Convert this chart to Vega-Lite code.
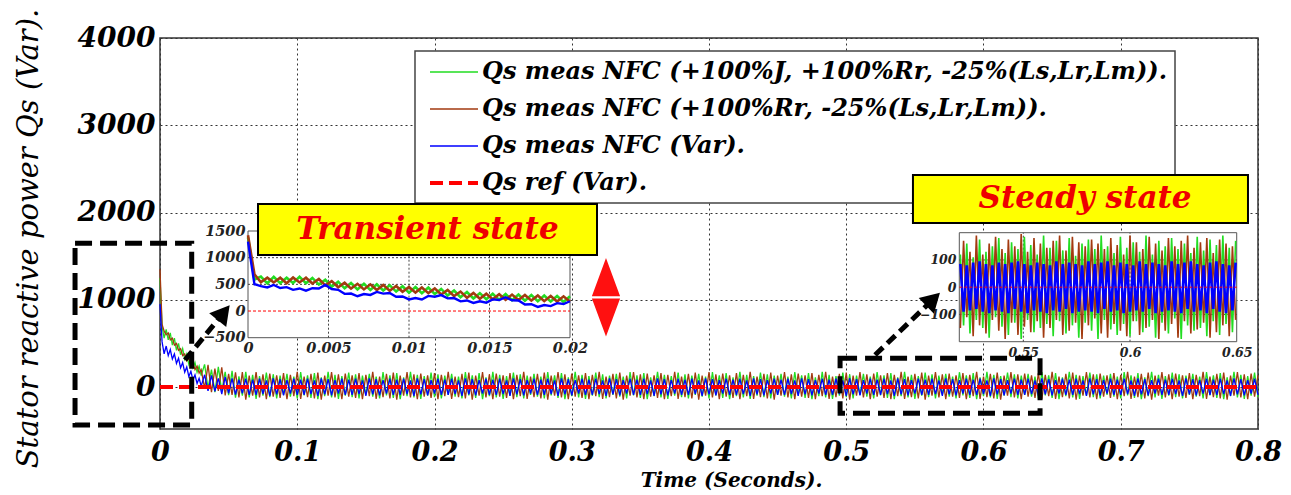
{
"$schema": "https://vega.github.io/schema/vega-lite/v6.json",
"width": 1098, "height": 391,
"autosize": "none",
"padding": {"left": 160, "top": 38, "right": 33, "bottom": 66},
"background": "white",
"datasets": {
"main": [
{"t":0,"a":1250,"b":1350,"c":950},{"t":0.0015,"a":700,"b":720,"c":520},{"t":0.003,"a":560,"b":640,"c":380},{"t":0.0045,"a":660,"b":600,"c":470},{"t":0.006,"a":540,"b":620,"c":360},{"t":0.0075,"a":620,"b":540,"c":430},{"t":0.009,"a":480,"b":560,"c":320},{"t":0.0105,"a":560,"b":480,"c":380},{"t":0.012,"a":420,"b":500,"c":270},{"t":0.0135,"a":500,"b":420,"c":330},{"t":0.015,"a":370,"b":440,"c":220},{"t":0.0165,"a":440,"b":360,"c":280},{"t":0.018,"a":320,"b":380,"c":170},{"t":0.0195,"a":380,"b":300,"c":230},{"t":0.021,"a":260,"b":330,"c":120},{"t":0.0225,"a":330,"b":250,"c":180},{"t":0.024,"a":220,"b":280,"c":80},{"t":0.0255,"a":280,"b":200,"c":140},{"t":0.027,"a":170,"b":240,"c":40},{"t":0.0285,"a":240,"b":160,"c":100},{"t":0.03,"a":130,"b":200,"c":10},
{"t":0.0325,"a":260,"b":-15,"c":140},{"t":0.035,"a":-15,"b":255,"c":-45},{"t":0.0375,"a":200,"b":-60,"c":133},{"t":0.04,"a":-60,"b":210,"c":-50},{"t":0.0425,"a":230,"b":-45,"c":100},{"t":0.045,"a":-45,"b":225,"c":-80},{"t":0.0475,"a":175,"b":-95,"c":115},{"t":0.05,"a":-93,"b":152,"c":-73},{"t":0.0525,"a":185,"b":-90,"c":100},{"t":0.055,"a":-122,"b":168,"c":-88},{"t":0.0575,"a":122,"b":-118,"c":85},{"t":0.06,"a":-99,"b":171,"c":-73},
{"t":0.0625,"a":175,"b":-145,"c":95},{"t":0.065,"a":-120,"b":130,"c":-90},{"t":0.0675,"a":140,"b":-100,"c":85},{"t":0.07,"a":-135,"b":170,"c":-90},{"t":0.0725,"a":125,"b":-120,"c":95},{"t":0.075,"a":-100,"b":145,"c":-80},{"t":0.0775,"a":165,"b":-140,"c":75},{"t":0.08,"a":-115,"b":155,"c":-100},{"t":0.0825,"a":145,"b":-110,"c":100},{"t":0.085,"a":-130,"b":135,"c":-85},{"t":0.0875,"a":130,"b":-125,"c":90},{"t":0.09,"a":-90,"b":160,"c":-95},
{"t":0.0925,"a":150,"b":-140,"c":80},{"t":0.095,"a":-110,"b":140,"c":-75},{"t":0.0975,"a":120,"b":-105,"c":95},{"t":0.1,"a":-130,"b":175,"c":-90},{"t":0.1025,"a":170,"b":-135,"c":85},{"t":0.105,"a":-95,"b":120,"c":-90},{"t":0.1075,"a":135,"b":-115,"c":95},{"t":0.11,"a":-125,"b":150,"c":-80},{"t":0.1125,"a":160,"b":-130,"c":75},{"t":0.115,"a":-140,"b":165,"c":-100},{"t":0.1175,"a":110,"b":-145,"c":100},{"t":0.12,"a":-105,"b":130,"c":-85},
{"t":0.1225,"a":175,"b":-100,"c":90},{"t":0.125,"a":-120,"b":170,"c":-95},{"t":0.1275,"a":140,"b":-120,"c":80},{"t":0.13,"a":-135,"b":145,"c":-75},{"t":0.1325,"a":125,"b":-140,"c":95},{"t":0.135,"a":-100,"b":155,"c":-90},{"t":0.1375,"a":165,"b":-110,"c":85},{"t":0.14,"a":-115,"b":135,"c":-90},{"t":0.1425,"a":145,"b":-125,"c":95},{"t":0.145,"a":-130,"b":160,"c":-80},{"t":0.1475,"a":130,"b":-140,"c":75},{"t":0.15,"a":-90,"b":140,"c":-100},
{"t":0.1525,"a":150,"b":-105,"c":100},{"t":0.155,"a":-110,"b":175,"c":-85},{"t":0.1575,"a":120,"b":-135,"c":90},{"t":0.16,"a":-130,"b":120,"c":-95},{"t":0.1625,"a":170,"b":-115,"c":80},{"t":0.165,"a":-95,"b":150,"c":-75},{"t":0.1675,"a":135,"b":-130,"c":95},{"t":0.17,"a":-125,"b":165,"c":-90},{"t":0.1725,"a":160,"b":-145,"c":85},{"t":0.175,"a":-140,"b":130,"c":-90},{"t":0.1775,"a":110,"b":-100,"c":95},{"t":0.18,"a":-105,"b":170,"c":-80},
{"t":0.1825,"a":175,"b":-120,"c":75},{"t":0.185,"a":-120,"b":145,"c":-100},{"t":0.1875,"a":140,"b":-140,"c":100},{"t":0.19,"a":-135,"b":155,"c":-85},{"t":0.1925,"a":125,"b":-110,"c":90},{"t":0.195,"a":-100,"b":135,"c":-95},{"t":0.1975,"a":165,"b":-125,"c":80},{"t":0.2,"a":-115,"b":160,"c":-75},{"t":0.2025,"a":145,"b":-140,"c":95},{"t":0.205,"a":-130,"b":140,"c":-90},{"t":0.2075,"a":130,"b":-105,"c":85},{"t":0.21,"a":-90,"b":175,"c":-90},
{"t":0.2125,"a":150,"b":-135,"c":95},{"t":0.215,"a":-110,"b":120,"c":-80},{"t":0.2175,"a":120,"b":-115,"c":75},{"t":0.22,"a":-130,"b":150,"c":-100},{"t":0.2225,"a":170,"b":-130,"c":100},{"t":0.225,"a":-95,"b":165,"c":-85},{"t":0.2275,"a":135,"b":-145,"c":90},{"t":0.23,"a":-125,"b":130,"c":-95},{"t":0.2325,"a":160,"b":-100,"c":80},{"t":0.235,"a":-140,"b":170,"c":-75},{"t":0.2375,"a":110,"b":-120,"c":95},{"t":0.24,"a":-105,"b":145,"c":-90},
{"t":0.2425,"a":175,"b":-140,"c":85},{"t":0.245,"a":-120,"b":155,"c":-90},{"t":0.2475,"a":140,"b":-110,"c":95},{"t":0.25,"a":-135,"b":135,"c":-80},{"t":0.2525,"a":125,"b":-125,"c":75},{"t":0.255,"a":-100,"b":160,"c":-100},{"t":0.2575,"a":165,"b":-140,"c":100},{"t":0.26,"a":-115,"b":140,"c":-85},{"t":0.2625,"a":145,"b":-105,"c":90},{"t":0.265,"a":-130,"b":175,"c":-95},{"t":0.2675,"a":130,"b":-135,"c":80},{"t":0.27,"a":-90,"b":120,"c":-75},
{"t":0.2725,"a":150,"b":-115,"c":95},{"t":0.275,"a":-110,"b":150,"c":-90},{"t":0.2775,"a":120,"b":-130,"c":85},{"t":0.28,"a":-130,"b":165,"c":-90},{"t":0.2825,"a":170,"b":-145,"c":95},{"t":0.285,"a":-95,"b":130,"c":-80},{"t":0.2875,"a":135,"b":-100,"c":75},{"t":0.29,"a":-125,"b":170,"c":-100},{"t":0.2925,"a":160,"b":-120,"c":100},{"t":0.295,"a":-140,"b":145,"c":-85},{"t":0.2975,"a":110,"b":-140,"c":90},{"t":0.3,"a":-105,"b":155,"c":-95},
{"t":0.3025,"a":175,"b":-110,"c":80},{"t":0.305,"a":-120,"b":135,"c":-75},{"t":0.3075,"a":140,"b":-125,"c":95},{"t":0.31,"a":-135,"b":160,"c":-90},{"t":0.3125,"a":125,"b":-140,"c":85},{"t":0.315,"a":-100,"b":140,"c":-90},{"t":0.3175,"a":165,"b":-105,"c":95},{"t":0.32,"a":-115,"b":175,"c":-80},{"t":0.3225,"a":145,"b":-135,"c":75},{"t":0.325,"a":-130,"b":120,"c":-100},{"t":0.3275,"a":130,"b":-115,"c":100},{"t":0.33,"a":-90,"b":150,"c":-85},
{"t":0.3325,"a":150,"b":-130,"c":90},{"t":0.335,"a":-110,"b":165,"c":-95},{"t":0.3375,"a":120,"b":-145,"c":80},{"t":0.34,"a":-130,"b":130,"c":-75},{"t":0.3425,"a":170,"b":-100,"c":95},{"t":0.345,"a":-95,"b":170,"c":-90},{"t":0.3475,"a":135,"b":-120,"c":85},{"t":0.35,"a":-125,"b":145,"c":-90},{"t":0.3525,"a":160,"b":-140,"c":95},{"t":0.355,"a":-140,"b":155,"c":-80},{"t":0.3575,"a":110,"b":-110,"c":75},{"t":0.36,"a":-105,"b":135,"c":-100},
{"t":0.3625,"a":175,"b":-125,"c":100},{"t":0.365,"a":-120,"b":160,"c":-85},{"t":0.3675,"a":140,"b":-140,"c":90},{"t":0.37,"a":-135,"b":140,"c":-95},{"t":0.3725,"a":125,"b":-105,"c":80},{"t":0.375,"a":-100,"b":175,"c":-75},{"t":0.3775,"a":165,"b":-135,"c":95},{"t":0.38,"a":-115,"b":120,"c":-90},{"t":0.3825,"a":145,"b":-115,"c":85},{"t":0.385,"a":-130,"b":150,"c":-90},{"t":0.3875,"a":130,"b":-130,"c":95},{"t":0.39,"a":-90,"b":165,"c":-80},
{"t":0.3925,"a":150,"b":-145,"c":75},{"t":0.395,"a":-110,"b":130,"c":-100},{"t":0.3975,"a":120,"b":-100,"c":100},{"t":0.4,"a":-130,"b":170,"c":-85},{"t":0.4025,"a":170,"b":-120,"c":90},{"t":0.405,"a":-95,"b":145,"c":-95},{"t":0.4075,"a":135,"b":-140,"c":80},{"t":0.41,"a":-125,"b":155,"c":-75},{"t":0.4125,"a":160,"b":-110,"c":95},{"t":0.415,"a":-140,"b":135,"c":-90},{"t":0.4175,"a":110,"b":-125,"c":85},{"t":0.42,"a":-105,"b":160,"c":-90},
{"t":0.4225,"a":175,"b":-140,"c":95},{"t":0.425,"a":-120,"b":140,"c":-80},{"t":0.4275,"a":140,"b":-105,"c":75},{"t":0.43,"a":-135,"b":175,"c":-100},{"t":0.4325,"a":125,"b":-135,"c":100},{"t":0.435,"a":-100,"b":120,"c":-85},{"t":0.4375,"a":165,"b":-115,"c":90},{"t":0.44,"a":-115,"b":150,"c":-95},{"t":0.4425,"a":145,"b":-130,"c":80},{"t":0.445,"a":-130,"b":165,"c":-75},{"t":0.4475,"a":130,"b":-145,"c":95},{"t":0.45,"a":-90,"b":130,"c":-90},
{"t":0.4525,"a":150,"b":-100,"c":85},{"t":0.455,"a":-110,"b":170,"c":-90},{"t":0.4575,"a":120,"b":-120,"c":95},{"t":0.46,"a":-130,"b":145,"c":-80},{"t":0.4625,"a":170,"b":-140,"c":75},{"t":0.465,"a":-95,"b":155,"c":-100},{"t":0.4675,"a":135,"b":-110,"c":100},{"t":0.47,"a":-125,"b":135,"c":-85},{"t":0.4725,"a":160,"b":-125,"c":90},{"t":0.475,"a":-140,"b":160,"c":-95},{"t":0.4775,"a":110,"b":-140,"c":80},{"t":0.48,"a":-105,"b":140,"c":-75},
{"t":0.4825,"a":175,"b":-105,"c":95},{"t":0.485,"a":-120,"b":175,"c":-90},{"t":0.4875,"a":140,"b":-135,"c":85},{"t":0.49,"a":-135,"b":120,"c":-90},{"t":0.4925,"a":125,"b":-115,"c":95},{"t":0.495,"a":-100,"b":150,"c":-80},{"t":0.4975,"a":165,"b":-130,"c":75},{"t":0.5,"a":-115,"b":165,"c":-100},{"t":0.5025,"a":145,"b":-145,"c":100},{"t":0.505,"a":-130,"b":130,"c":-85},{"t":0.5075,"a":130,"b":-100,"c":90},{"t":0.51,"a":-90,"b":170,"c":-95},
{"t":0.5125,"a":150,"b":-120,"c":80},{"t":0.515,"a":-110,"b":145,"c":-75},{"t":0.5175,"a":120,"b":-140,"c":95},{"t":0.52,"a":-130,"b":155,"c":-90},{"t":0.5225,"a":170,"b":-110,"c":85},{"t":0.525,"a":-95,"b":135,"c":-90},{"t":0.5275,"a":135,"b":-125,"c":95},{"t":0.53,"a":-125,"b":160,"c":-80},{"t":0.5325,"a":160,"b":-140,"c":75},{"t":0.535,"a":-140,"b":140,"c":-100},{"t":0.5375,"a":110,"b":-105,"c":100},{"t":0.54,"a":-105,"b":175,"c":-85},
{"t":0.5425,"a":175,"b":-135,"c":90},{"t":0.545,"a":-120,"b":120,"c":-95},{"t":0.5475,"a":140,"b":-115,"c":80},{"t":0.55,"a":-135,"b":150,"c":-75},{"t":0.5525,"a":125,"b":-130,"c":95},{"t":0.555,"a":-100,"b":165,"c":-90},{"t":0.5575,"a":165,"b":-145,"c":85},{"t":0.56,"a":-115,"b":130,"c":-90},{"t":0.5625,"a":145,"b":-100,"c":95},{"t":0.565,"a":-130,"b":170,"c":-80},{"t":0.5675,"a":130,"b":-120,"c":75},{"t":0.57,"a":-90,"b":145,"c":-100},
{"t":0.5725,"a":150,"b":-140,"c":100},{"t":0.575,"a":-110,"b":155,"c":-85},{"t":0.5775,"a":120,"b":-110,"c":90},{"t":0.58,"a":-130,"b":135,"c":-95},{"t":0.5825,"a":170,"b":-125,"c":80},{"t":0.585,"a":-95,"b":160,"c":-75},{"t":0.5875,"a":135,"b":-140,"c":95},{"t":0.59,"a":-125,"b":140,"c":-90},{"t":0.5925,"a":160,"b":-105,"c":85},{"t":0.595,"a":-140,"b":175,"c":-90},{"t":0.5975,"a":110,"b":-135,"c":95},{"t":0.6,"a":-105,"b":120,"c":-80},
{"t":0.6025,"a":175,"b":-115,"c":75},{"t":0.605,"a":-120,"b":150,"c":-100},{"t":0.6075,"a":140,"b":-130,"c":100},{"t":0.61,"a":-135,"b":165,"c":-85},{"t":0.6125,"a":125,"b":-145,"c":90},{"t":0.615,"a":-100,"b":130,"c":-95},{"t":0.6175,"a":165,"b":-100,"c":80},{"t":0.62,"a":-115,"b":170,"c":-75},{"t":0.6225,"a":145,"b":-120,"c":95},{"t":0.625,"a":-130,"b":145,"c":-90},{"t":0.6275,"a":130,"b":-140,"c":85},{"t":0.63,"a":-90,"b":155,"c":-90},
{"t":0.6325,"a":150,"b":-110,"c":95},{"t":0.635,"a":-110,"b":135,"c":-80},{"t":0.6375,"a":120,"b":-125,"c":75},{"t":0.64,"a":-130,"b":160,"c":-100},{"t":0.6425,"a":170,"b":-140,"c":100},{"t":0.645,"a":-95,"b":140,"c":-85},{"t":0.6475,"a":135,"b":-105,"c":90},{"t":0.65,"a":-125,"b":175,"c":-95},{"t":0.6525,"a":160,"b":-135,"c":80},{"t":0.655,"a":-140,"b":120,"c":-75},{"t":0.6575,"a":110,"b":-115,"c":95},{"t":0.66,"a":-105,"b":150,"c":-90},
{"t":0.6625,"a":175,"b":-130,"c":85},{"t":0.665,"a":-120,"b":165,"c":-90},{"t":0.6675,"a":140,"b":-145,"c":95},{"t":0.67,"a":-135,"b":130,"c":-80},{"t":0.6725,"a":125,"b":-100,"c":75},{"t":0.675,"a":-100,"b":170,"c":-100},{"t":0.6775,"a":165,"b":-120,"c":100},{"t":0.68,"a":-115,"b":145,"c":-85},{"t":0.6825,"a":145,"b":-140,"c":90},{"t":0.685,"a":-130,"b":155,"c":-95},{"t":0.6875,"a":130,"b":-110,"c":80},{"t":0.69,"a":-90,"b":135,"c":-75},
{"t":0.6925,"a":150,"b":-125,"c":95},{"t":0.695,"a":-110,"b":160,"c":-90},{"t":0.6975,"a":120,"b":-140,"c":85},{"t":0.7,"a":-130,"b":140,"c":-90},{"t":0.7025,"a":170,"b":-105,"c":95},{"t":0.705,"a":-95,"b":175,"c":-80},{"t":0.7075,"a":135,"b":-135,"c":75},{"t":0.71,"a":-125,"b":120,"c":-100},{"t":0.7125,"a":160,"b":-115,"c":100},{"t":0.715,"a":-140,"b":150,"c":-85},{"t":0.7175,"a":110,"b":-130,"c":90},{"t":0.72,"a":-105,"b":165,"c":-95},
{"t":0.7225,"a":175,"b":-145,"c":80},{"t":0.725,"a":-120,"b":130,"c":-75},{"t":0.7275,"a":140,"b":-100,"c":95},{"t":0.73,"a":-135,"b":170,"c":-90},{"t":0.7325,"a":125,"b":-120,"c":85},{"t":0.735,"a":-100,"b":145,"c":-90},{"t":0.7375,"a":165,"b":-140,"c":95},{"t":0.74,"a":-115,"b":155,"c":-80},{"t":0.7425,"a":145,"b":-110,"c":75},{"t":0.745,"a":-130,"b":135,"c":-100},{"t":0.7475,"a":130,"b":-125,"c":100},{"t":0.75,"a":-90,"b":160,"c":-85},
{"t":0.7525,"a":150,"b":-140,"c":90},{"t":0.755,"a":-110,"b":140,"c":-95},{"t":0.7575,"a":120,"b":-105,"c":80},{"t":0.76,"a":-130,"b":175,"c":-75},{"t":0.7625,"a":170,"b":-135,"c":95},{"t":0.765,"a":-95,"b":120,"c":-90},{"t":0.7675,"a":135,"b":-115,"c":85},{"t":0.77,"a":-125,"b":150,"c":-90},{"t":0.7725,"a":160,"b":-130,"c":95},{"t":0.775,"a":-140,"b":165,"c":-80},{"t":0.7775,"a":110,"b":-145,"c":75},{"t":0.78,"a":-105,"b":130,"c":-100},
{"t":0.7825,"a":175,"b":-100,"c":100},{"t":0.785,"a":-120,"b":170,"c":-85},{"t":0.7875,"a":140,"b":-120,"c":90},{"t":0.79,"a":-135,"b":145,"c":-95},{"t":0.7925,"a":125,"b":-140,"c":80},{"t":0.795,"a":-100,"b":155,"c":-75},{"t":0.7975,"a":165,"b":-110,"c":95},{"t":0.8,"a":-115,"b":135,"c":-90}
],
"trans": [
{"t":0,"a":1380,"b":1420,"c":1300},{"t":0.0004,"a":590,"b":690,"c":502},{"t":0.0008,"a":645,"b":540,"c":468},{"t":0.0012,"a":520,"b":625,"c":442},{"t":0.0016,"a":640,"b":535,"c":488},{"t":0.002,"a":520,"b":625,"c":432},{"t":0.0024,"a":625,"b":520,"c":448},{"t":0.0028,"a":525,"b":630,"c":397},{"t":0.0032,"a":640,"b":535,"c":423},{"t":0.0036,"a":520,"b":625,"c":382},
{"t":0.004,"a":620,"b":515,"c":428},{"t":0.0044,"a":495,"b":600,"c":422},{"t":0.0048,"a":585,"b":480,"c":488},{"t":0.0052,"a":455,"b":560,"c":412},{"t":0.0056,"a":550,"b":445,"c":398},{"t":0.006,"a":425,"b":530,"c":322},{"t":0.0064,"a":525,"b":420,"c":328},{"t":0.0068,"a":405,"b":510,"c":277},{"t":0.0072,"a":510,"b":405,"c":318},{"t":0.0076,"a":395,"b":500,"c":302},
{"t":0.008,"a":500,"b":395,"c":358},{"t":0.0084,"a":385,"b":490,"c":327},{"t":0.0088,"a":485,"b":380,"c":338},{"t":0.0092,"a":365,"b":470,"c":267},{"t":0.0096,"a":465,"b":360,"c":273},{"t":0.01,"a":345,"b":450,"c":217},{"t":0.0104,"a":450,"b":345,"c":243},{"t":0.0108,"a":335,"b":440,"c":217},{"t":0.0112,"a":440,"b":335,"c":283},{"t":0.0116,"a":320,"b":425,"c":267},
{"t":0.012,"a":415,"b":310,"c":298},{"t":0.0124,"a":290,"b":395,"c":237},{"t":0.0128,"a":385,"b":280,"c":243},{"t":0.0132,"a":260,"b":365,"c":182},{"t":0.0136,"a":355,"b":250,"c":198},{"t":0.014,"a":235,"b":340,"c":152},{"t":0.0144,"a":335,"b":230,"c":183},{"t":0.0148,"a":220,"b":325,"c":157},{"t":0.0152,"a":325,"b":220,"c":218},{"t":0.0156,"a":210,"b":315,"c":207},
{"t":0.016,"a":317,"b":212,"c":258},{"t":0.0164,"a":203,"b":308,"c":202},{"t":0.0168,"a":310,"b":205,"c":198},{"t":0.0172,"a":195,"b":300,"c":122},{"t":0.0176,"a":300,"b":195,"c":128},{"t":0.018,"a":185,"b":290,"c":77},{"t":0.0184,"a":290,"b":185,"c":113},{"t":0.0188,"a":177,"b":282,"c":92},{"t":0.0192,"a":283,"b":178,"c":148},{"t":0.0196,"a":170,"b":275,"c":132},
{"t":0.02,"a":277,"b":172,"c":183}
],
"steady": [
{"t":0.5205,"a":120,"b":-150,"c":85},{"t":0.522,"a":-140,"b":170,"c":-90},{"t":0.5235,"a":160,"b":-110,"c":80},{"t":0.525,"a":-170,"b":130,"c":-85},{"t":0.5265,"a":110,"b":-180,"c":90},{"t":0.528,"a":-120,"b":190,"c":-80},{"t":0.5295,"a":175,"b":-140,"c":95},{"t":0.531,"a":-150,"b":120,"c":-90},{"t":0.5325,"a":130,"b":-170,"c":85},{"t":0.534,"a":-185,"b":160,"c":-95},
{"t":0.5355,"a":150,"b":-120,"c":80},{"t":0.537,"a":-110,"b":185,"c":-85},{"t":0.5385,"a":180,"b":-160,"c":90},{"t":0.54,"a":-145,"b":140,"c":-90},{"t":0.5415,"a":125,"b":-190,"c":85},{"t":0.543,"a":-175,"b":175,"c":-95},{"t":0.5445,"a":165,"b":-130,"c":90},{"t":0.546,"a":-130,"b":150,"c":-80},{"t":0.5475,"a":140,"b":-175,"c":95},{"t":0.549,"a":-190,"b":195,"c":-90},
{"t":0.5505,"a":185,"b":-145,"c":85},{"t":0.552,"a":-120,"b":130,"c":-95},{"t":0.5535,"a":155,"b":-165,"c":80},{"t":0.555,"a":-165,"b":180,"c":-85},{"t":0.5565,"a":120,"b":-125,"c":90},{"t":0.558,"a":-150,"b":160,"c":-90},{"t":0.5595,"a":190,"b":-185,"c":85},{"t":0.561,"a":-135,"b":145,"c":-95},{"t":0.5625,"a":145,"b":-150,"c":80},{"t":0.564,"a":-180,"b":170,"c":-85},
{"t":0.5655,"a":170,"b":-120,"c":95},{"t":0.567,"a":-125,"b":190,"c":-90},{"t":0.5685,"a":135,"b":-175,"c":85},{"t":0.57,"a":-170,"b":135,"c":-80},{"t":0.5715,"a":180,"b":-160,"c":90},{"t":0.573,"a":-140,"b":185,"c":-95},{"t":0.5745,"a":115,"b":-130,"c":85},{"t":0.576,"a":-185,"b":165,"c":-90},{"t":0.5775,"a":160,"b":-190,"c":80},{"t":0.579,"a":-130,"b":150,"c":-85},
{"t":0.5805,"a":175,"b":-140,"c":95},{"t":0.582,"a":-160,"b":175,"c":-90},{"t":0.5835,"a":140,"b":-115,"c":85},{"t":0.585,"a":-190,"b":160,"c":-95},{"t":0.5865,"a":190,"b":-170,"c":90},{"t":0.588,"a":-120,"b":140,"c":-80},{"t":0.5895,"a":150,"b":-185,"c":95},{"t":0.591,"a":-155,"b":180,"c":-90},{"t":0.5925,"a":125,"b":-135,"c":80},{"t":0.594,"a":-175,"b":155,"c":-85},
{"t":0.5955,"a":185,"b":-160,"c":90},{"t":0.597,"a":-135,"b":120,"c":-95},{"t":0.5985,"a":145,"b":-180,"c":85},{"t":0.6,"a":-180,"b":190,"c":-90},{"t":0.6015,"a":165,"b":-125,"c":80},{"t":0.603,"a":-125,"b":165,"c":-85},{"t":0.6045,"a":130,"b":-175,"c":95},{"t":0.606,"a":-165,"b":140,"c":-90},{"t":0.6075,"a":190,"b":-150,"c":85},{"t":0.609,"a":-145,"b":185,"c":-80},
{"t":0.6105,"a":120,"b":-120,"c":90},{"t":0.612,"a":-185,"b":160,"c":-95},{"t":0.6135,"a":170,"b":-190,"c":85},{"t":0.615,"a":-130,"b":135,"c":-90},{"t":0.6165,"a":150,"b":-160,"c":80},{"t":0.618,"a":-170,"b":180,"c":-85},{"t":0.6195,"a":180,"b":-135,"c":95},{"t":0.621,"a":-115,"b":150,"c":-90},{"t":0.6225,"a":140,"b":-185,"c":85},{"t":0.624,"a":-190,"b":170,"c":-95},
{"t":0.6255,"a":160,"b":-125,"c":90},{"t":0.627,"a":-140,"b":190,"c":-80},{"t":0.6285,"a":125,"b":-170,"c":95},{"t":0.63,"a":-160,"b":145,"c":-90},{"t":0.6315,"a":185,"b":-155,"c":85},{"t":0.633,"a":-150,"b":165,"c":-85},{"t":0.6345,"a":135,"b":-130,"c":80},{"t":0.636,"a":-180,"b":180,"c":-95},{"t":0.6375,"a":175,"b":-185,"c":90},{"t":0.639,"a":-125,"b":125,"c":-80},
{"t":0.6405,"a":155,"b":-165,"c":95},{"t":0.642,"a":-175,"b":175,"c":-90},{"t":0.6435,"a":190,"b":-140,"c":85},{"t":0.645,"a":-135,"b":160,"c":-95},{"t":0.6465,"a":145,"b":-180,"c":80},{"t":0.648,"a":-165,"b":150,"c":-85},{"t":0.6495,"a":170,"b":-120,"c":90}
]
},
"layer": [
{
"layer": [
{"data": {"values": [{"x1": 0, "x2": 0.02, "y1": -500, "y2": 1500}]},
 "mark": {"type": "rect", "fill": "white", "stroke": "#555", "strokeWidth": 1},
 "encoding": {
  "x": {"field": "x1", "type": "quantitative", "title": null, "scale": {"domain": [-0.005466, 0.062733], "nice": false, "zero": false},
        "axis": {"orient": "bottom", "offset": -91, "values": [0, 0.005, 0.01, 0.015, 0.02], "format": "~g", "labelFontSize": 14.5, "labelPadding": 3, "labelColor": "#222", "grid": false, "title": null}},
  "x2": {"field": "x2"},
  "y": {"field": "y1", "type": "quantitative", "title": null, "scale": {"domain": [-2211.3, 5117.6], "nice": false, "zero": false},
        "axis": {"orient": "left", "offset": -88, "values": [-500, 0, 500, 1000, 1500], "format": "d", "labelFontSize": 14.5, "labelPadding": 3, "labelColor": "#222", "grid": false, "title": null}},
  "y2": {"field": "y2"}}},
{"data": {"values": [{"g": 0.005}, {"g": 0.01}, {"g": 0.015}]},
 "mark": {"type": "rule", "stroke": "#444", "strokeDash": [2, 2], "strokeWidth": 1},
 "encoding": {"x": {"field": "g", "type": "quantitative", "title": null}, "y": {"datum": -500}, "y2": {"datum": 1500}}},
{"data": {"values": [{"g": 500}, {"g": 1000}]},
 "mark": {"type": "rule", "stroke": "#444", "strokeDash": [2, 2], "strokeWidth": 1},
 "encoding": {"y": {"field": "g", "type": "quantitative", "title": null}, "x": {"datum": 0}, "x2": {"datum": 0.02}}},
{"data": {"name": "trans"},
 "transform": [{"fold": ["a", "b", "c"], "as": ["key", "v"]}],
 "mark": {"type": "line"},
 "encoding": {"x": {"field": "t", "type": "quantitative", "title": null}, "y": {"field": "v", "type": "quantitative", "title": null},
  "color": {"field": "key", "type": "nominal"},
  "strokeWidth": {"condition": {"test": "datum.key === 'c'", "value": 2.4}, "value": 2.6}}},
{"data": {"values": [{"t": 0, "v": 0}, {"t": 0.02, "v": 0}]},
 "mark": {"type": "line", "color": "#ff0000", "strokeWidth": 1, "strokeDash": [3, 2]},
 "encoding": {"x": {"field": "t", "type": "quantitative", "title": null}, "y": {"field": "v", "type": "quantitative", "title": null}}}
]
},
{
"layer": [
{"data": {"values": [{"x1": 0.52, "x2": 0.65, "y1": -200, "y2": 200}]},
 "mark": {"type": "rect", "fill": "white", "stroke": "#555", "strokeWidth": 1},
 "encoding": {
  "x": {"field": "x1", "type": "quantitative", "title": null, "scale": {"domain": [0.14542, 0.65998], "nice": false, "zero": false},
        "axis": {"orient": "bottom", "offset": -87, "values": [0.55, 0.6, 0.65], "format": "~g", "labelFontSize": 12.5, "labelPadding": 4, "labelColor": "#222", "grid": false, "title": null}},
  "x2": {"field": "x2"},
  "y": {"field": "y1", "type": "quantitative", "title": null, "scale": {"domain": [-520.4, 914.5], "nice": false, "zero": false},
        "axis": {"orient": "left", "offset": -799, "values": [-100, 0, 100], "format": "d", "labelFontSize": 12.5, "labelPadding": 3, "labelColor": "#222", "grid": false, "title": null}},
  "y2": {"field": "y2"}}},
{"data": {"values": [{"g": 0.55}, {"g": 0.6}]},
 "mark": {"type": "rule", "stroke": "#444", "strokeDash": [2, 2], "strokeWidth": 1},
 "encoding": {"x": {"field": "g", "type": "quantitative", "title": null}, "y": {"datum": -200}, "y2": {"datum": 200}}},
{"data": {"values": [{"g": -100}, {"g": 100}]},
 "mark": {"type": "rule", "stroke": "#444", "strokeDash": [2, 2], "strokeWidth": 1},
 "encoding": {"y": {"field": "g", "type": "quantitative", "title": null}, "x": {"datum": 0.52}, "x2": {"datum": 0.65}}},
{"data": {"name": "steady"},
 "transform": [{"fold": ["a", "b", "c"], "as": ["key", "v"]}],
 "mark": {"type": "line"},
 "encoding": {"x": {"field": "t", "type": "quantitative", "title": null}, "y": {"field": "v", "type": "quantitative", "title": null},
  "color": {"field": "key", "type": "nominal"},
  "strokeWidth": {"condition": {"test": "datum.key === 'c'", "value": 2.6}, "value": 1.6}}},
{"data": {"values": [{"t": 0.52, "v": 0}, {"t": 0.65, "v": 0}]},
 "mark": {"type": "line", "color": "#ff0000", "strokeWidth": 1, "strokeDash": [3, 2]},
 "encoding": {"x": {"field": "t", "type": "quantitative", "title": null}, "y": {"field": "v", "type": "quantitative", "title": null}}}
]
},
{
"layer": [
{"data": {"values": [{"x1": 0.18579, "x2": 0.73953, "y1": 2109, "y2": 3851}]},
 "mark": {"type": "rect", "fill": "white", "stroke": "#444", "strokeWidth": 1.5},
 "encoding": {"x": {"field": "x1", "type": "quantitative"}, "x2": {"field": "x2"}, "y": {"field": "y1", "type": "quantitative"}, "y2": {"field": "y2"}}},
{"data": {"name": "main"},
 "transform": [{"fold": ["a", "b", "c"], "as": ["key", "v"]}],
 "mark": {"type": "line", "strokeWidth": 1.3},
 "encoding": {
  "x": {"field": "t", "type": "quantitative", "scale": {"domain": [0, 0.8], "nice": false, "zero": false},
        "axis": {"orient": "bottom", "values": [0, 0.1, 0.2, 0.3, 0.4, 0.5, 0.6, 0.7, 0.8], "format": "~g", "labelFontSize": 27, "labelPadding": 10, "grid": true, "gridDash": [2, 3], "gridColor": "#333", "gridWidth": 1,
                 "title": "Time (Seconds).", "titleFont": "DejaVu Serif", "titleFontSize": 20, "titleFontStyle": "italic", "titleFontWeight": "bold", "titleX": 571, "titleY": 57, "titleBaseline": "alphabetic", "titleAlign": "center"}},
  "y": {"field": "v", "type": "quantitative", "scale": {"domain": [-481, 4000], "nice": false, "zero": false},
        "axis": {"orient": "left", "values": [0, 1000, 2000, 3000, 4000], "format": "d", "labelFontSize": 28, "labelPadding": 5, "grid": true, "gridDash": [2, 3], "gridColor": "#333", "gridWidth": 1,
                 "title": "Stator reactive power Qs (Var).", "titleFont": "DejaVu Serif", "titleFontSize": 29, "titleFontStyle": "italic", "titleFontWeight": "normal", "titleX": -117, "titleY": 200, "titleBaseline": "bottom", "titleAngle": -90, "titleAlign": "center"}},
  "color": {"field": "key", "type": "nominal", "scale": {"domain": ["a", "b", "c", "d"], "range": ["#22dd22", "#a33a10", "#0000ff", "#ff0000"]},
            "legend": {"labelExpr": "datum.value == 'a' ? 'Qs meas NFC (+100%J, +100%Rr, -25%(Ls,Lr,Lm)).' : datum.value == 'b' ? 'Qs meas NFC (+100%Rr, -25%(Ls,Lr,Lm)).' : datum.value == 'c' ? 'Qs meas NFC (Var).' : 'Qs ref (Var).'",
                       "encode": {"symbols": {"update": {"strokeWidth": {"signal": "datum.value === 'd' ? 4 : 1.3"}}}}}},
  "strokeDash": {"field": "key", "type": "nominal", "scale": {"domain": ["a", "b", "c", "d"], "range": [[1, 0], [1, 0], [1, 0], [13, 6]]},
            "legend": {"labelExpr": "datum.value == 'a' ? 'Qs meas NFC (+100%J, +100%Rr, -25%(Ls,Lr,Lm)).' : datum.value == 'b' ? 'Qs meas NFC (+100%Rr, -25%(Ls,Lr,Lm)).' : datum.value == 'c' ? 'Qs meas NFC (Var).' : 'Qs ref (Var).'",
                       "encode": {"symbols": {"update": {"strokeWidth": {"signal": "datum.value === 'd' ? 4 : 1.3"}}}}}}
 }},
{"data": {"values": [{"t": 0, "v": 0, "key": "d"}, {"t": 0.8, "v": 0, "key": "d"}]},
 "mark": {"type": "line", "strokeWidth": 4},
 "encoding": {"x": {"field": "t", "type": "quantitative"}, "y": {"field": "v", "type": "quantitative"},
  "color": {"field": "key", "type": "nominal"}, "strokeDash": {"field": "key", "type": "nominal"}}},
{"data": {"values": [{"x1": -0.0619, "x2": 0.0231, "y1": -435, "y2": 1647}, {"x1": 0.4955, "x2": 0.6412, "y1": -301, "y2": 329}]},
 "mark": {"type": "rect", "fill": "transparent", "stroke": "#000", "strokeWidth": 5, "strokeDash": [17, 8]},
 "encoding": {"x": {"field": "x1", "type": "quantitative"}, "x2": {"field": "x2"}, "y": {"field": "y1", "type": "quantitative"}, "y2": {"field": "y2"}}},
{"data": {"values": [{"x1": 0.0182, "y1": 310, "x2": 0.0464, "y2": 852}, {"x1": 0.521, "y1": 367, "x2": 0.5633, "y2": 1005}]},
 "mark": {"type": "rule", "stroke": "#000", "strokeWidth": 5, "strokeDash": [11, 6]},
 "encoding": {"x": {"field": "x1", "type": "quantitative"}, "x2": {"field": "x2"}, "y": {"field": "y1", "type": "quantitative"}, "y2": {"field": "y2"}}},
{"data": {"values": [{"x": 0.0464, "y": 852, "ang": 39}, {"x": 0.5633, "y": 1005, "ang": 46}]},
 "mark": {"type": "point", "shape": "triangle-up", "filled": true, "color": "#000", "size": 480, "opacity": 1},
 "encoding": {"x": {"field": "x", "type": "quantitative"}, "y": {"field": "y", "type": "quantitative"}, "angle": {"field": "ang", "type": "quantitative", "scale": null}}},
{"data": {"values": [{"x": 0.32495, "y": 1028}]},
 "mark": {"type": "point", "shape": "M0,-1L0.36,-0.03L-0.36,-0.03Z M0,1L0.36,0.03L-0.36,0.03Z", "filled": true, "color": "#ff1010", "size": 6150, "opacity": 1},
 "encoding": {"x": {"field": "x", "type": "quantitative"}, "y": {"field": "y", "type": "quantitative"}}},
{"data": {"values": [{"x1": 0.0714, "x2": 0.3184, "y1": 1513, "y2": 2097, "tx": 0.1949, "ty": 1805, "label": "Transient state"}, {"x1": 0.5486, "x2": 0.7927, "y1": 1880, "y2": 2430, "tx": 0.674, "ty": 2155, "label": "Steady state"}]},
 "layer": [
  {"mark": {"type": "rect", "fill": "#ffff00", "stroke": "#000", "strokeWidth": 2},
   "encoding": {"x": {"field": "x1", "type": "quantitative"}, "x2": {"field": "x2"}, "y": {"field": "y1", "type": "quantitative"}, "y2": {"field": "y2"}}},
  {"mark": {"type": "text", "font": "DejaVu Serif", "fontSize": 31, "fontStyle": "italic", "fontWeight": "bold", "color": "#ee0000", "align": "center", "baseline": "middle"},
   "encoding": {"x": {"field": "tx", "type": "quantitative"}, "y": {"field": "ty", "type": "quantitative"}, "text": {"field": "label"}}}
 ]}
]
}
],
"resolve": {"scale": {"x": "independent", "y": "independent"}},
"config": {
 "view": {"stroke": "#333", "strokeWidth": 1.5},
 "axis": {"labelFont": "DejaVu Serif", "labelFontStyle": "italic", "labelFontWeight": "bold", "labelColor": "#000", "titleColor": "#000", "domain": false, "ticks": false, "grid": false, "labelFlush": false, "labelOverlap": false},
 "legend": {"orient": "none", "legendX": 266, "legendY": 22, "title": null, "padding": 0, "symbolType": "M-3,0L3,0", "symbolSize": 256, "symbolOffset": 16, "labelOffset": 16, "rowPadding": 13,
            "labelFont": "DejaVu Serif", "labelFontSize": 24, "labelFontStyle": "italic", "labelFontWeight": "bold", "labelColor": "#000", "labelLimit": 1000}
}
}
